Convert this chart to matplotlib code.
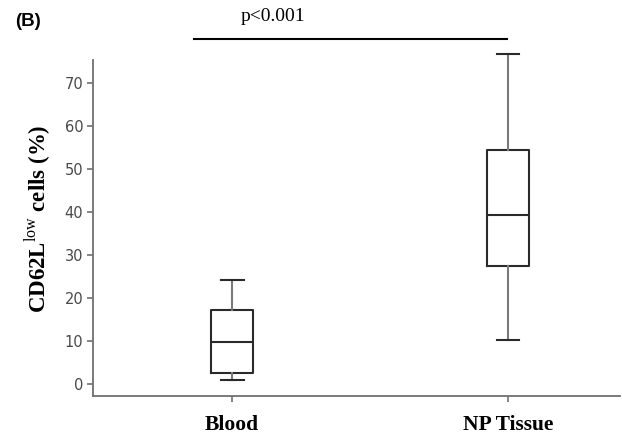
import matplotlib
matplotlib.use("Agg")
import matplotlib.pyplot as plt

categories = ["Blood", "NP Tissue"]
whisker_low = [0.9, 10.2]
q1 = [2.5, 27.5]
median = [9.8, 39.3]
q3 = [17.2, 54.5]
whisker_high = [24.2, 76.8]
yticks = [0, 10, 20, 30, 40, 50, 60, 70]
p_label = "p<0.001"
panel_label = "(B)"

plt.rcParams['mathtext.fontset'] = 'custom'
plt.rcParams['mathtext.rm'] = 'Liberation Serif'
plt.rcParams['mathtext.bf'] = 'Liberation Serif:bold'

W, H = 622, 437
fig = plt.figure(figsize=(W / 100, H / 100), dpi=100)
ax = fig.add_axes([93 / W, 1 - 396 / H, (620 - 93) / W, (396 - 60) / H])

stats = []
for i, c in enumerate(categories):
    stats.append(dict(label=c, whislo=whisker_low[i], q1=q1[i], med=median[i],
                      q3=q3[i], whishi=whisker_high[i], fliers=[]))

dark = "#2a2a2a"
ax.bxp(stats, positions=[0, 1], widths=0.152, showfliers=False,
       boxprops=dict(color=dark, linewidth=1.5),
       medianprops=dict(color=dark, linewidth=1.5),
       whiskerprops=dict(color="#7a7a7a", linewidth=1.5),
       capprops=dict(color=dark, linewidth=1.5),
       capwidths=0.083, manage_ticks=False)
for art in ax.get_children():
    try:
        art.set_clip_on(False)
    except Exception:
        pass

ax.set_xlim(-0.504, 1.406)
ax.set_ylim(-2.8, 75.4)
ax.set_xticks([0, 1])
ax.set_xticklabels(categories, family="Liberation Serif", fontweight="bold",
                   fontsize=15.5, color="black")
ax.set_yticks(yticks)
ax.set_yticklabels([str(v) for v in yticks], family="DejaVu Sans",
                   fontsize=10.5, color="#4a4a4a")
ax.tick_params(axis="y", length=4, width=1.2, color="#707070", pad=3)
ax.tick_params(axis="x", length=4, width=1.2, color="#707070", pad=10)

for s in ["top", "right"]:
    ax.spines[s].set_visible(False)
for s in ["left", "bottom"]:
    ax.spines[s].set_color("#707070")
    ax.spines[s].set_linewidth(1.3)

# significance bar
ax.plot([-0.138, 0.996], [80.2, 80.2], color="black", linewidth=1.5, clip_on=False)
ax.text(0.149, 85.6, p_label, ha="center", va="center", family="Liberation Serif",
        fontsize=14, color="black", clip_on=False)

fig.text(38 / W, 1 - 219 / H, r"CD62L$^{\mathrm{low}}$ cells (%)", rotation=90,
         ha="center", va="center", family="Liberation Serif", fontweight="bold",
         fontsize=16.5)
fig.text(28.5 / W, 1 - 22 / H, panel_label, ha="center", va="center",
         family="Liberation Sans", fontweight="bold", fontsize=13.5)

fig.savefig("out.png", dpi=100)
